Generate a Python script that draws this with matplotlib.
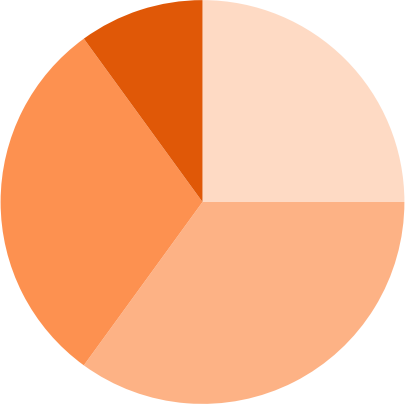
import matplotlib
matplotlib.use('Agg')
import matplotlib.pyplot as plt

# slice values (clockwise from 12 o'clock)
values = [25, 35, 30, 10]
colors = ['#fedac4', '#fdb285', '#fd9150', '#e05807']

fig = plt.figure(figsize=(4.05, 4.04), dpi=100)
ax = fig.add_axes([0, 0, 1, 1])
ax.pie(values, colors=colors, startangle=90, counterclock=False,
       radius=1, wedgeprops={'linewidth': 0})
ax.set_xlim(-1.003, 1.003)
ax.set_ylim(-1.0, 1.0)
ax.set_aspect('equal')
ax.axis('off')
fig.savefig('out.png', dpi=100)
